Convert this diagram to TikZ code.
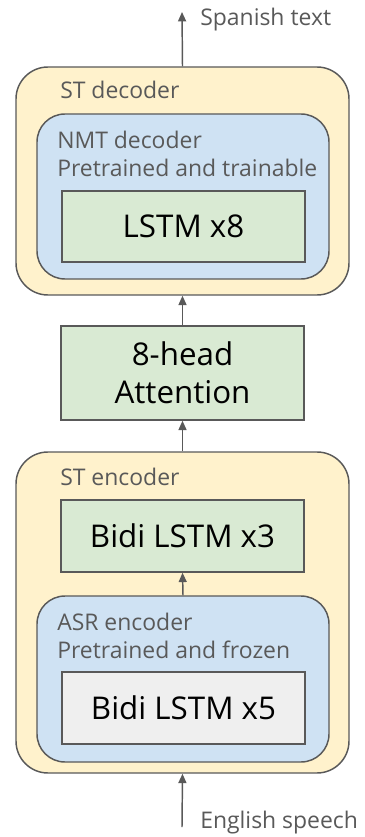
\documentclass[tikz,border=0pt]{standalone}
\usepackage{fontspec}
\setmainfont{Open Sans}
\usepackage{xcolor}
\usetikzlibrary{arrows.meta,positioning}

\definecolor{edgegray}{HTML}{595959}
\definecolor{stfill}{HTML}{FFF2CC}
\definecolor{pretrainfill}{HTML}{CFE2F3}
\definecolor{layerfill}{HTML}{D9EAD3}
\definecolor{frozenfill}{HTML}{EFEFEF}

\tikzset{
	boxsize/.style 2 args={minimum width=#1*0.75pt,minimum height=#2*0.75pt},
	stbox/.style={draw=edgegray,line width=1.1pt,fill=stfill,rounded corners=24pt,inner sep=0pt},
	pretrainbox/.style={draw=edgegray,line width=1.1pt,fill=pretrainfill,rounded corners=21pt,inner sep=0pt},
	layerbox/.style={draw=edgegray,line width=1.1pt,fill=layerfill,inner sep=0pt,align=center,font=\fontsize{23.5}{28.5}\selectfont},
	frozenbox/.style={layerbox,fill=frozenfill},
	caption/.style={anchor=west,inner sep=0pt,text=edgegray,font=\fontsize{17.2}{20}\selectfont},
	flow/.style={edgegray,line width=1.1pt,-{Triangle[length=7pt,width=6pt]}}
}

\begin{document}
\begin{tikzpicture}[x=0.75pt,y=-0.75pt]
	\useasboundingbox (0,0) rectangle (364,837);
	% decoder side
	\node [stbox,boxsize={333}{228}] (dec) at (182.5,181) {};
	\node [caption] (declabel) at (60,90) {ST decoder};
	\node [pretrainbox,boxsize={292}{165}] (nmt) at (183,196.5) {};
	\node [caption] (nmtlabel) at (57,140) {NMT decoder};
	\node [caption] (nmtnote) at (57,168) {Pretrained and trainable};
	\node [layerbox,boxsize={243}{71}] (lstm) at (183.5,226.5) {LSTM x8};
	% attention
	\node [layerbox,boxsize={243}{94}] (att) at (182.5,373) {8-head\\Attention};
	% encoder side
	\node [stbox,boxsize={333}{321}] (enc) at (182.5,612.5) {};
	\node [caption] (enclabel) at (60,477) {ST encoder};
	\node [layerbox,boxsize={243}{72}] (bidi) at (182.5,536) {Bidi LSTM x3};
	\node [pretrainbox,boxsize={292}{166}] (asr) at (183,679) {};
	\node [caption] (asrlabel) at (57,622) {ASR encoder};
	\node [caption] (asrnote) at (57,650) {Pretrained and frozen};
	\node [frozenbox,boxsize={243}{72}] (frozen) at (183.5,708) {Bidi LSTM x5};
	% in and out
	\coordinate (out) at (182,12);
	\coordinate (in) at (182,827);
	\node [caption] (outlabel) at (200,20) {Spanish text};
	\node [caption] (inlabel) at (200,823) {English speech};
	\draw [flow] (in) -- (enc.south);
	\draw [flow] (asr.north) -- (bidi.south);
	\draw [flow] (enc.north) -- (att.south);
	\draw [flow] (att.north) -- (dec.south);
	\draw [flow] (dec.north) -- (out);
\end{tikzpicture}
\end{document}
